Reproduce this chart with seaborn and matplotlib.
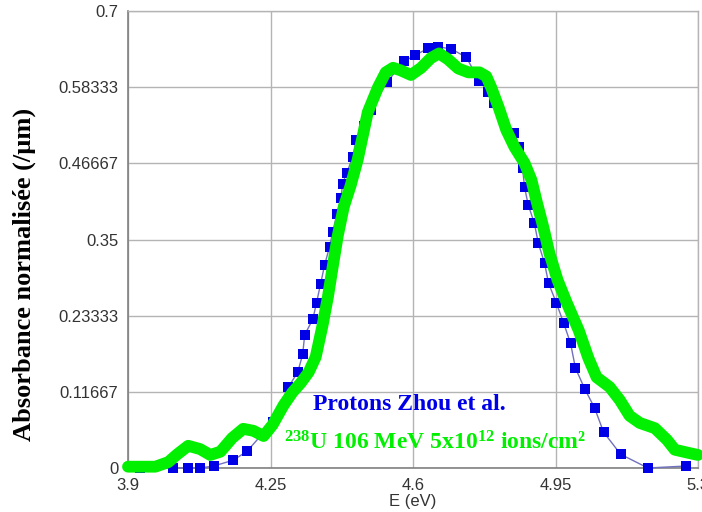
import matplotlib
matplotlib.use("Agg")
import matplotlib.pyplot as plt
import seaborn as sns
import numpy as np

# --- data ---
# blue squares: protons (Zhou et al.)
proton_e = [3.930, 4.011, 4.048, 4.077, 4.110, 4.159, 4.193, 4.255, 4.294, 4.317,
            4.329, 4.334, 4.354, 4.363, 4.373, 4.383, 4.395, 4.403, 4.413, 4.423,
            4.427, 4.437, 4.452, 4.460, 4.479, 4.496, 4.536, 4.578, 4.605, 4.637,
            4.662, 4.694, 4.731, 4.763, 4.785, 4.800, 4.849, 4.861, 4.869, 4.874,
            4.883, 4.898, 4.908, 4.923, 4.933, 4.952, 4.970, 4.987, 4.999, 5.022,
            5.046, 5.068, 5.110, 5.177, 5.270]
proton_abs = [0.000, 0.000, 0.000, 0.000, 0.003, 0.012, 0.026, 0.070, 0.124, 0.147,
              0.174, 0.204, 0.228, 0.253, 0.282, 0.311, 0.339, 0.362, 0.389, 0.413,
              0.435, 0.452, 0.476, 0.502, 0.524, 0.548, 0.591, 0.623, 0.632, 0.643,
              0.645, 0.642, 0.629, 0.593, 0.576, 0.559, 0.513, 0.492, 0.460, 0.430,
              0.403, 0.375, 0.344, 0.314, 0.283, 0.253, 0.222, 0.191, 0.153, 0.121,
              0.092, 0.055, 0.021, 0.000, 0.003]

# green curve: 238U 106 MeV
uranium_e = [3.900, 3.967, 3.999, 4.021, 4.048, 4.077, 4.102, 4.127, 4.156, 4.183,
             4.208, 4.233, 4.255, 4.282, 4.304, 4.324, 4.344, 4.361, 4.378, 4.391,
             4.403, 4.415, 4.430, 4.447, 4.464, 4.489, 4.514, 4.533, 4.551, 4.570,
             4.595, 4.620, 4.644, 4.664, 4.686, 4.711, 4.736, 4.763, 4.780, 4.792,
             4.810, 4.829, 4.849, 4.874, 4.891, 4.903, 4.920, 4.935, 4.955, 4.977,
             5.007, 5.031, 5.051, 5.083, 5.108, 5.132, 5.157, 5.194, 5.224, 5.243,
             5.278, 5.300]
uranium_abs = [0.002, 0.002, 0.009, 0.021, 0.034, 0.029, 0.020, 0.025, 0.046, 0.060,
               0.057, 0.049, 0.066, 0.096, 0.116, 0.130, 0.147, 0.170, 0.219, 0.262,
               0.309, 0.355, 0.400, 0.433, 0.472, 0.545, 0.583, 0.606, 0.613, 0.609,
               0.602, 0.613, 0.628, 0.635, 0.626, 0.612, 0.606, 0.606, 0.600, 0.583,
               0.553, 0.518, 0.492, 0.467, 0.441, 0.410, 0.369, 0.329, 0.288, 0.254,
               0.211, 0.168, 0.139, 0.124, 0.104, 0.080, 0.069, 0.061, 0.043, 0.028,
               0.023, 0.020]

x_ticks = [3.9, 4.25, 4.6, 4.95, 5.3]
x_tick_labels = ["3.9", "4.25", "4.6", "4.95", "5.3"]
y_ticks = [0, 0.7 / 6, 0.7 / 3, 0.35, 1.4 / 3, 3.5 / 6, 0.7]
y_tick_labels = ["0", "0.11667", "0.23333", "0.35", "0.46667", "0.58333", "0.7"]

blue = "#0000e6"
green = "#00f000"

sns.set_style("whitegrid")
plt.rcParams["font.family"] = ["Liberation Sans", "DejaVu Sans"]
plt.rcParams["mathtext.fontset"] = "custom"
plt.rcParams["mathtext.rm"] = "Liberation Serif:bold"
plt.rcParams["mathtext.default"] = "rm"

fig = plt.figure(figsize=(7.02, 5.12), dpi=100)
ax = fig.add_axes([128 / 702, 1 - 468 / 512, 570 / 702, 457 / 512])

# protons: small squares joined by a thin line
sns.lineplot(x=proton_e, y=proton_abs, ax=ax, sort=False, color="#7070c0",
             linewidth=1, marker="s", markersize=6.5, markerfacecolor=blue,
             markeredgecolor=blue, markeredgewidth=0, clip_on=False, zorder=3)
# uranium: thick green trace on top
sns.lineplot(x=uranium_e, y=uranium_abs, ax=ax, sort=False, color=green,
             linewidth=8.5, solid_capstyle="round", solid_joinstyle="round",
             clip_on=False, zorder=4)

ax.set_xlim(3.9, 5.3)
ax.set_ylim(0, 0.7)
ax.set_xticks(x_ticks)
ax.set_xticklabels(x_tick_labels)
ax.set_yticks(y_ticks)
ax.set_yticklabels(y_tick_labels)
ax.grid(True, color="#b4b4b4", linewidth=1)
ax.tick_params(axis="both", labelsize=12, labelcolor="#333333", colors="#808080",
               length=4, width=1, pad=3)
ax.tick_params(axis="both", labelcolor="#333333")
for side in ["left", "bottom"]:
    ax.spines[side].set_color("#808080")
    ax.spines[side].set_linewidth(1.2)
for side in ["top", "right"]:
    ax.spines[side].set_color("#b4b4b4")
    ax.spines[side].set_linewidth(1)

ax.set_xlabel("E (eV)", fontsize=12, color="#333333", labelpad=1)
ax.set_ylabel("")
fig.text(24 / 702, 1 - 274 / 512, "Absorbance normalisée (/µm)", rotation=90,
         ha="center", va="center", fontsize=19, fontweight="bold",
         family="Liberation Serif", color="black")

ax.text(4.3535, 0.0888, "Protons Zhou et al.", color=blue, fontsize=17,
        fontweight="bold", family="Liberation Serif", va="baseline", zorder=5)
ax.text(4.282, 0.0276, r"$^{238}$U 106 MeV 5x10$^{12}$ ions/cm²", color=green,
        fontsize=17, fontweight="bold", family="Liberation Serif", va="baseline",
        zorder=5)

fig.savefig("out.png", dpi=100)
